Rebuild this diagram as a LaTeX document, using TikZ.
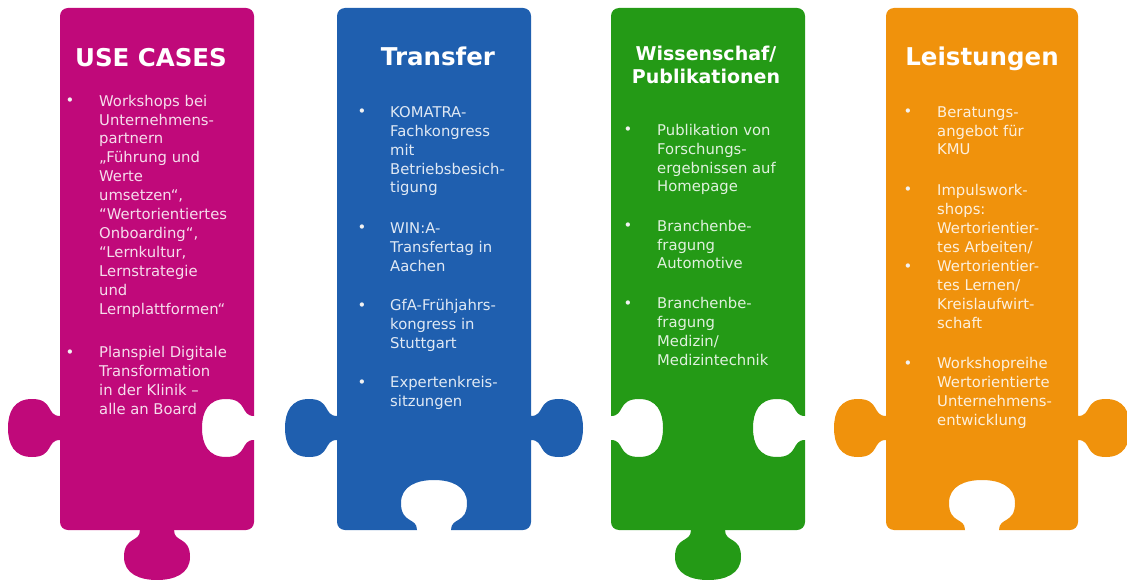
\documentclass[tikz,border=0pt]{standalone}
\usepackage{fontspec}
\setmainfont{DejaVu Sans}
\usepackage{tikz}
\usetikzlibrary{positioning}
\definecolor{ucmagenta}{HTML}{C0097A}
\definecolor{trblue}{HTML}{1F5FAF}
\definecolor{wpgreen}{HTML}{249A16}
\definecolor{lsorange}{HTML}{F0920C}
\newcommand{\itemfont}{\fontsize{14.8}{18.9}\selectfont}
\newcommand{\titlefont}{\fontsize{24.5}{28}\selectfont\bfseries}
\newcommand{\subtitlefont}{\fontsize{19}{23}\selectfont\bfseries}
% side knob (#3 = outward sign, #4 = running direction) and bottom knob
\newcommand{\vbump}[4]{-- ({#1}, {#2-(#4)*12}) .. controls ({#1+(#3)*14}, {#2-(#4)*12}) and ({#1+(#3)*6}, {#2-(#4)*29}) .. ({#1+(#3)*28}, {#2-(#4)*29}) .. controls ({#1+(#3)*46}, {#2-(#4)*29}) and ({#1+(#3)*52}, {#2-(#4)*16}) .. ({#1+(#3)*52}, {#2}) .. controls ({#1+(#3)*52}, {#2+(#4)*16}) and ({#1+(#3)*46}, {#2+(#4)*29}) .. ({#1+(#3)*28}, {#2+(#4)*29}) .. controls ({#1+(#3)*6}, {#2+(#4)*29}) and ({#1+(#3)*14}, {#2+(#4)*12}) .. ({#1}, {#2+(#4)*12})}
\newcommand{\hbump}[3]{-- ({#1+17}, {#2}) .. controls ({#1+17}, {#2+(#3)*13}) and ({#1+33}, {#2+(#3)*6}) .. ({#1+33}, {#2+(#3)*27}) .. controls ({#1+33}, {#2+(#3)*44}) and ({#1+17}, {#2+(#3)*50}) .. ({#1}, {#2+(#3)*50}) .. controls ({#1-17}, {#2+(#3)*50}) and ({#1-33}, {#2+(#3)*44}) .. ({#1-33}, {#2+(#3)*27}) .. controls ({#1-33}, {#2+(#3)*6}) and ({#1-17}, {#2+(#3)*13}) .. ({#1-17}, {#2})}
\tikzstyle{title} = [text=white, font=\titlefont, inner sep=0pt, anchor=base]
\tikzstyle{subtitle} = [text=white, font=\subtitlefont, inner sep=0pt, anchor=base, align=center]
\tikzstyle{item} = [font=\itemfont, inner sep=0pt, anchor=base west, align=left]
\tikzstyle{dot} = [font=\itemfont, inner sep=0pt, anchor=base, text=white!90!gray]
\tikzstyle{ucitem} = [item, text=white!86!ucmagenta]
\tikzstyle{tritem} = [item, text=white!86!trblue]
\tikzstyle{wpitem} = [item, text=white!86!wpgreen]
\tikzstyle{lsitem} = [item, text=white!86!lsorange]

\begin{document}
\begin{tikzpicture}[x=1pt, y=-1pt]
    \useasboundingbox (0,0) rectangle (1127,580);

    \fill[ucmagenta] (60,200) [rounded corners=8pt] -- (60,8) -- (254,8) -- (254,200) [sharp corners] \vbump{254}{428}{-1}{1} -- (254,480) [rounded corners=8pt] -- (254,530) -- (190,530) [sharp corners] \hbump{157}{530}{1} -- (124,530) [rounded corners=8pt] -- (60,530) -- (60,480) [sharp corners] \vbump{60}{428}{-1}{-1} -- cycle;
    \fill[trblue] (337,200) [rounded corners=8pt] -- (337,8) -- (531,8) -- (531,200) [sharp corners] \vbump{531}{428}{1}{1} -- (531,480) [rounded corners=8pt] -- (531,530) -- (470,530) [sharp corners] \hbump{434}{530}{-1} -- (398,530) [rounded corners=8pt] -- (337,530) -- (337,480) [sharp corners] \vbump{337}{428}{-1}{-1} -- cycle;
    \fill[wpgreen] (611,200) [rounded corners=8pt] -- (611,8) -- (805,8) -- (805,200) [sharp corners] \vbump{805}{428}{-1}{1} -- (805,480) [rounded corners=8pt] -- (805,530) -- (744,530) [sharp corners] \hbump{708}{530}{1} -- (672,530) [rounded corners=8pt] -- (611,530) -- (611,480) [sharp corners] \vbump{611}{428}{1}{-1} -- cycle;
    \fill[lsorange] (886,200) [rounded corners=8pt] -- (886,8) -- (1078,8) -- (1078,200) [sharp corners] \vbump{1078}{428}{1}{1} -- (1078,480) [rounded corners=8pt] -- (1078,530) -- (1018,530) [sharp corners] \hbump{982}{530}{-1} -- (946,530) [rounded corners=8pt] -- (886,530) -- (886,480) [sharp corners] \vbump{886}{428}{-1}{-1} -- cycle;

    \node[title] (usecases) at (151,67) {USE CASES};
    \node[dot] (uc1dot) at (70,106) {•};
    \node[ucitem] (uc1) at (99,314) {Workshops bei\\Unternehmens-\\partnern\\„Führung und\\Werte\\umsetzen“,\\“Wertorientiertes\\Onboarding“,\\“Lernkultur,\\Lernstrategie\\und\\Lernplattformen“};
    \node[dot] (uc2dot) at (70,357) {•};
    \node[ucitem] (uc2) at (99,414) {Planspiel Digitale\\Transformation\\in der Klinik –\\alle an Board};

    \node[title] (transfer) at (438,66) {Transfer};
    \node[dot] (tr1dot) at (362,117) {•};
    \node[tritem] (tr1) at (390,193) {KOMATRA-\\Fachkongress\\mit\\Betriebsbesich-\\tigung};
    \node[dot] (tr2dot) at (362,233) {•};
    \node[tritem] (tr2) at (390,271) {WIN:A-\\Transfertag in\\Aachen};
    \node[dot] (tr3dot) at (362,310) {•};
    \node[tritem] (tr3) at (390,348) {GfA-Frühjahrs-\\kongress in\\Stuttgart};
    \node[dot] (tr4dot) at (362,387) {•};
    \node[tritem] (tr4) at (390,406) {Expertenkreis-\\sitzungen};

    \node[subtitle] (wissenschaft) at (706,84) {Wissenschaf/\\Publikationen};
    \node[dot] (wp1dot) at (628,135) {•};
    \node[wpitem] (wp1) at (657,192) {Publikation von\\Forschungs-\\ergebnissen auf\\Homepage};
    \node[dot] (wp2dot) at (628,231) {•};
    \node[wpitem] (wp2) at (657,269) {Branchenbe-\\fragung\\Automotive};
    \node[dot] (wp3dot) at (628,308) {•};
    \node[wpitem] (wp3) at (657,365) {Branchenbe-\\fragung\\Medizin/\\Medizintechnik};

    \node[title] (leistungen) at (982,66) {Leistungen};
    \node[dot] (ls1dot) at (908,117) {•};
    \node[lsitem] (ls1) at (937,155) {Beratungs-\\angebot für\\KMU};
    \node[dot] (ls2dot) at (908,195) {•};
    \node[lsitem] (ls2) at (937,252) {Impulswork-\\shops:\\Wertorientier-\\tes Arbeiten/};
    \node[dot] (ls3dot) at (908,271) {•};
    \node[lsitem] (ls3) at (937,328) {Wertorientier-\\tes Lernen/\\Kreislaufwirt-\\schaft};
    \node[dot] (ls4dot) at (908,368) {•};
    \node[lsitem] (ls4) at (937,425) {Workshopreihe\\Wertorientierte\\Unternehmens-\\entwicklung};
\end{tikzpicture}
\end{document}
